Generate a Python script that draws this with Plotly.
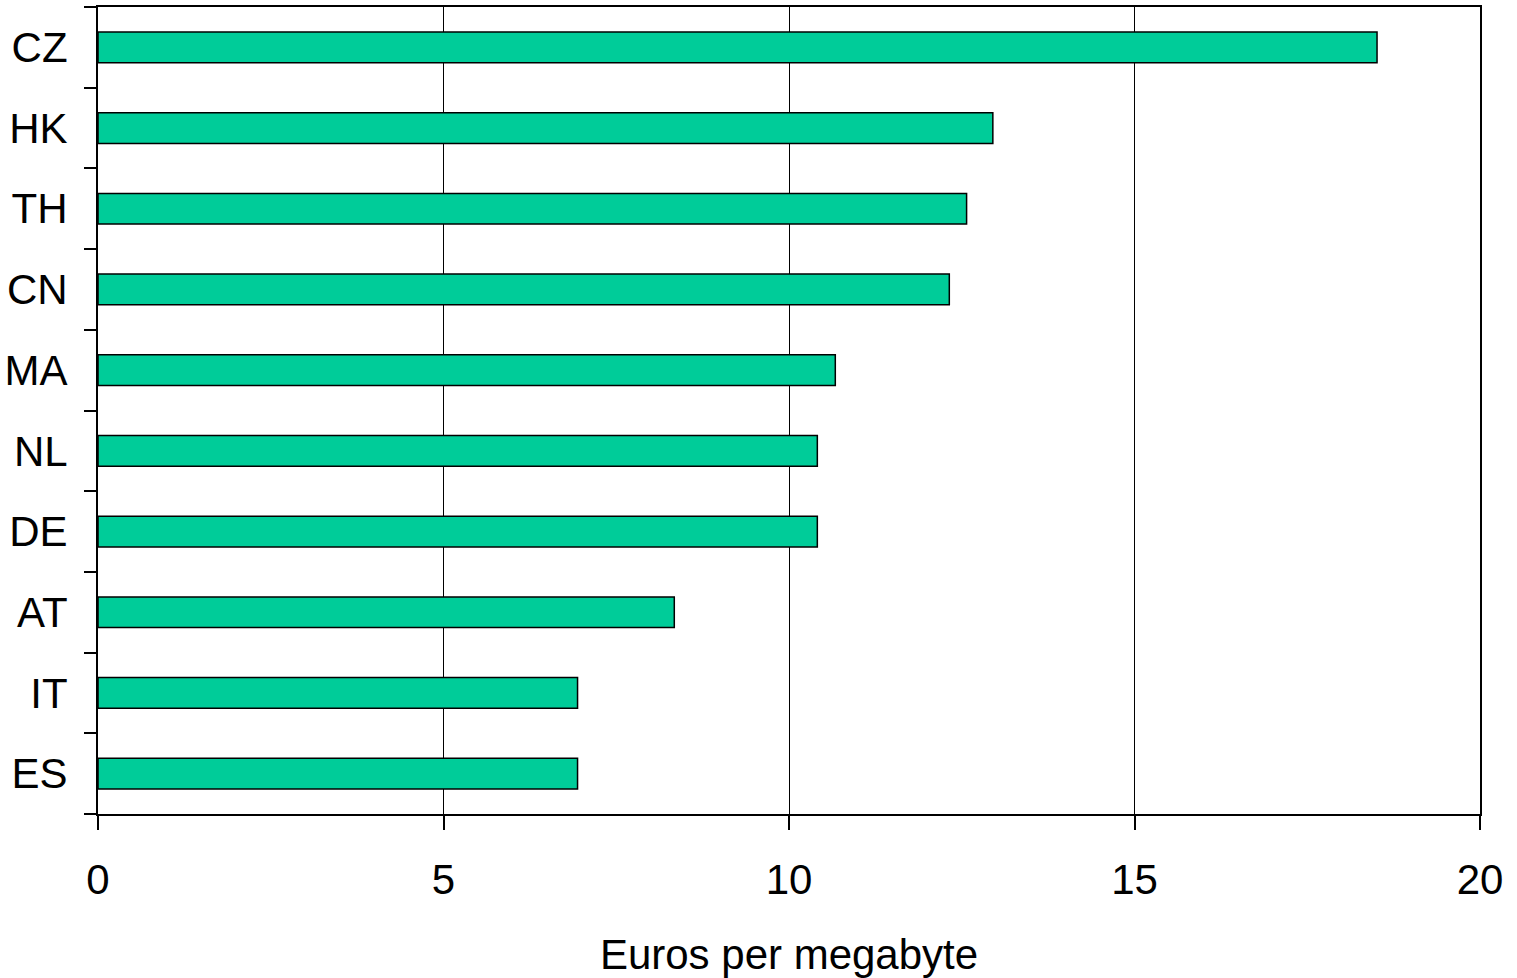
import plotly.graph_objects as go

countries = ["ES", "IT", "AT", "DE", "NL", "MA", "CN", "TH", "HK", "CZ"]
values = [6.94, 6.94, 8.34, 10.41, 10.41, 10.67, 12.32, 12.57, 12.95, 18.51]
x_ticks = [0, 5, 10, 15, 20]
x_title = "Euros per megabyte"

fig = go.Figure(go.Bar(
    x=values, y=countries, orientation="h",
    marker=dict(color="#00CC99", line=dict(color="black", width=1.5)),
    width=0.38,
))

font = dict(family="Liberation Sans, Arial, sans-serif", size=42, color="black")

fig.update_layout(
    width=1517, height=978,
    margin=dict(l=98, r=37, t=5, b=164),
    paper_bgcolor="white", plot_bgcolor="white",
    font=font,
    showlegend=False,
    xaxis=dict(
        range=[0, 20], tickvals=x_ticks, ticks="outside", ticklen=14,
        tickwidth=1.5, tickcolor="black",
        showgrid=True, gridcolor="black", gridwidth=1,
        showline=True, linecolor="black", linewidth=2, mirror=True,
        zeroline=False,
        ticklabelstandoff=14,
        title=dict(text=x_title, font=font, standoff=38),
        tickfont=font,
    ),
    yaxis=dict(
        type="category", categoryorder="array", categoryarray=countries,
        range=[-0.5, 9.5],
        tickson="boundaries", ticks="outside", ticklen=12,
        tickwidth=1.5, tickcolor="black",
        showgrid=False,
        showline=True, linecolor="black", linewidth=2, mirror=True,
        ticklabelstandoff=20,
        tickfont=font,
    ),
)

fig.write_html("out.html", config={"displayModeBar": False},
               post_script="document.body.style.margin='0';")
